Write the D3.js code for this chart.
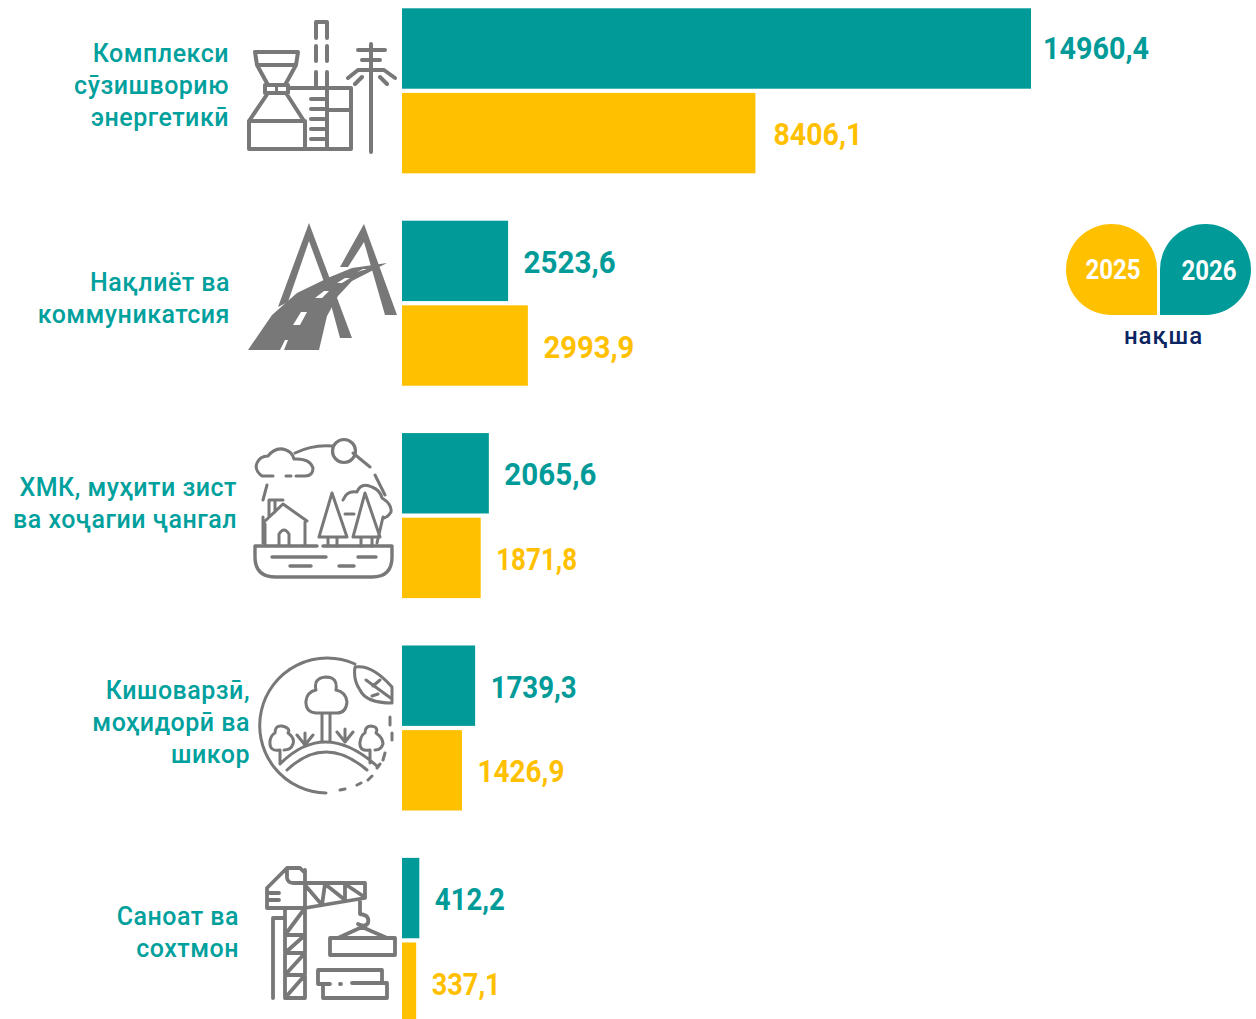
<!DOCTYPE html>
<html><head><meta charset="utf-8">
<script src="https://cdn.jsdelivr.net/npm/d3@7"></script>
<style>html,body{margin:0;padding:0;background:#fff}svg{display:block}</style></head>
<body><div id="c"></div>
<script>
const categories = ["energy","transport","env","agri","industry"];
const categoryLabels = [
  ["Комплекси","сӯзишворию","энергетикӣ"],
  ["Нақлиёт ва","коммуникатсия"],
  ["ХМК, муҳити зист","ва хоҷагии ҷангал"],
  ["Кишоварзӣ,","моҳидорӣ ва","шикор"],
  ["Саноат ва","сохтмон"]
];
const labelRight = [229,230,237,250,239];
const labelFirstBaseline = [62,291,496,699,925];
const values2026 = [14960.4,2523.6,2065.6,1739.3,412.2];
const values2025 = [8406.1,2993.9,1871.8,1426.9,337.1];
const seriesNames = ["2026","2025"];
const planWord = "нақша";
const teal = "#009b98", amber = "#ffc000", navy = "#0b2560", grey = "#787878";
const fmt = v => String(v).replace(".",",");

const svg = d3.select("#c").append("svg").attr("width",1256).attr("height",1019).attr("viewBox","0 0 1256 1019");
const x = d3.scaleLinear().domain([0,14960.4]).range([402,1031]);
const y = d3.scaleBand().domain(categories).range([8.3,1022.9]).paddingInner(0.223).paddingOuter(0);
const ySub = d3.scaleBand().domain(seriesNames).range([0,y.bandwidth()]).paddingInner(0.05);
const color = d3.scaleOrdinal().domain(seriesNames).range([teal,amber]);

const rows = categories.flatMap((c,i)=>[
  {c,s:"2026",v:values2026[i]},{c,s:"2025",v:values2025[i]}
]);
svg.append("g").selectAll("rect").data(rows).join("rect")
  .attr("x",x(0)).attr("y",d=>y(d.c)+ySub(d.s))
  .attr("width",d=>x(d.v)-x(0)).attr("height",ySub.bandwidth())
  .attr("fill",d=>color(d.s));

// printed width of each value label, in the order of rows
const labelWidths = [106,89,92,91,92,81,86,87,70,69];
const labelNudge = d => d.v===14960.4 ? [-3.5,-1.5] : d.v===8406.1 ? [2.5,0] : [0,0];
svg.append("g").selectAll("text").data(rows).join("text")
  .attr("x",d=>x(d.v)+15.5+labelNudge(d)[0])
  .attr("y",d=>y(d.c)+ySub(d.s)+ySub.bandwidth()/2+12+labelNudge(d)[1])
  .attr("textLength",(d,i)=>labelWidths[i]).attr("lengthAdjust","spacingAndGlyphs")
  .attr("font-family","Roboto").attr("font-weight",700).attr("font-size",32)
  .attr("fill",d=>color(d.s)).text(d=>fmt(d.v));

const lab = svg.append("g").attr("font-family","Roboto").attr("font-weight",500).attr("font-size",25)
  .attr("fill","#00a09d").attr("text-anchor","end").attr("letter-spacing",0.5);
categoryLabels.forEach((lines,i)=>lines.forEach((t,j)=>
  lab.append("text").attr("x",labelRight[i]).attr("y",labelFirstBaseline[i]+j*32).text(t)));

// legend
const lg = svg.append("g");
lg.append("path").attr("fill",amber).attr("d","M1157 315H1111.5A45.5 45.5 0 1 1 1157 269.5Z");
lg.append("path").attr("fill",teal).attr("d","M1160 315V269.5A45.5 45.5 0 1 1 1205.5 315Z");
const lgText=(t,px,py)=>lg.append("text").attr("transform",`translate(${px},${py}) scale(0.86,1)`)
  .attr("text-anchor","middle").attr("font-family","Roboto").attr("font-weight",700).attr("font-size",28)
  .attr("fill","#fff").text(t);
lgText(seriesNames[1],1113,279); lgText(seriesNames[0],1209,280);
lg.append("text").attr("x",1163.5).attr("y",344).attr("text-anchor","middle").attr("font-family","Roboto")
  .attr("font-weight",500).attr("font-size",24).attr("letter-spacing",1).attr("fill",navy).text(planWord);

// pictograms
const ic = svg.append("g").attr("fill","none").attr("stroke",grey).attr("stroke-linecap","round").attr("stroke-linejoin","round");
const stroke = (d,w)=>ic.append("path").attr("d",d).attr("stroke-width",w);
const fill = (d,f=grey)=>ic.append("path").attr("d",d).attr("fill",f).attr("stroke","none");

// energy
stroke(`M255 52H298L296 65H257ZM257 65L268 85H285L296 65M265 85V93H288V85M268 93L249 121H304L286 93
M249 121V149H351V88H289M305 121V149M327 76V149M327 110H350M311 99H324M311 109H324M311 119H324M311 129H324M311 139H324
M316 38V22H327V38M316 46V61M327 46V61M316 72V86M327 72V86M371 44V152M358 50H385M362 60H380
M348 78L358 70H384L395 78M355 84L362 77M387 84L380 77`,4);
stroke("M276.5 86V92",3);

// transport
fill(`M309 223L278 307L288 302L309 241L327 290L340 338H352ZM364 224L340 267L348 267L364 242L385 315H397Z`);
fill(`M248 350L280 350L285 340H288L284 350H319L327 316L338 296L352 281L387 263L352 268L330 277L297 293L272 315Z`);
fill("M293 325L301 312H307L300 325ZM315 298L324 291H329L322 298ZM337 283L345 278H350L342 283ZM357 272L363 269H367Z","#fff");

// environment
stroke(`M317 546H255V557Q255 577 276 577H372Q392 577 392 557V546H323M272 557H326M358 557H376M290 566H311M339 566H354`,3.4);
stroke(`M265 545V524M305 545V522M263 523L283 504L307 521M269 517V500H283M275 500V512M279 545V534Q284 526 289 534V545
M332 493L319 537H347ZM328 537V546M337 537V546M365 493L353 537H380ZM361 537V546M372 537V546
M273 476H262Q254 470 257 463Q260 456 268 456Q276 446 286 450Q292 452 294 459Q310 458 313 468Q313 476 305 476H296M286 476H291
M343 500Q347 490 357 492Q361 482 372 487Q380 490 382 498Q392 504 391 512Q388 517 384 518M345 514H354
M295 453A70 70 0 0 1 333 446M353 453L370 467M375 475L385 495M267 485L263 500M383 517L377 543M263 517V543`,3);
ic.append("circle").attr("cx",344).attr("cy",451).attr("r",11.5).attr("stroke-width",3.2);

// agriculture
stroke(`M355 664A67.5 67.5 0 1 0 326 793M340 790L345 789M357 785L361 783M368 780L372 776M377 768L380 764M383 760L385 753M392 740V733M390 725V717
M355 667Q372 664 392 687V703Q366 703 360 690Q353 680 355 667ZM366 680L392 699M373 686L380 680M378 694L372 696
M322 742V713M330 742V713M316 713Q305 712 306 701Q307 692 316 690Q313 678 326 677Q338 677 336 690Q346 692 347 702Q346 713 337 713H316
M280 763V750M280 750Q269 752 270 741Q271 735 275 733Q275 725 282 726Q291 728 288 733Q295 738 293 744Q291 750 284 750
M370 763V750M370 750Q359 752 360 742Q361 735 365 733Q365 726 371 726Q379 727 376 733Q383 738 383 744Q381 750 375 750
M305 745V733M305 745L297 735M305 745L313 735M345 742V729M345 742L337 732M345 742L353 732
M280 764Q325 718.5 378 767M287 770Q325 734 367 770`,3);

// industry
stroke(`M273 998V918H285M285 998V908M305 998V870M285 998H305M285 935L305 908M285 953L305 935M285 975L305 953M285 998L305 975M285 935H305M285 953H305M285 975H305
M305 908H267V888L287 868H300L305 873M287 870V878Q288 883 293 883H365V898L305 908M305 885L322 905L325 884L345 900V884L363 896M268 893H279M268 900H279
M360 900V914Q370 915 368 923Q365 928 358 924M362 927L338 938M362 927L387 938M330 938H395V955H330Z
M318 970H382V983M318 970V984H323V998H387V983H352M340 984H341M323 984H330`,3.8);
</script></body></html>
